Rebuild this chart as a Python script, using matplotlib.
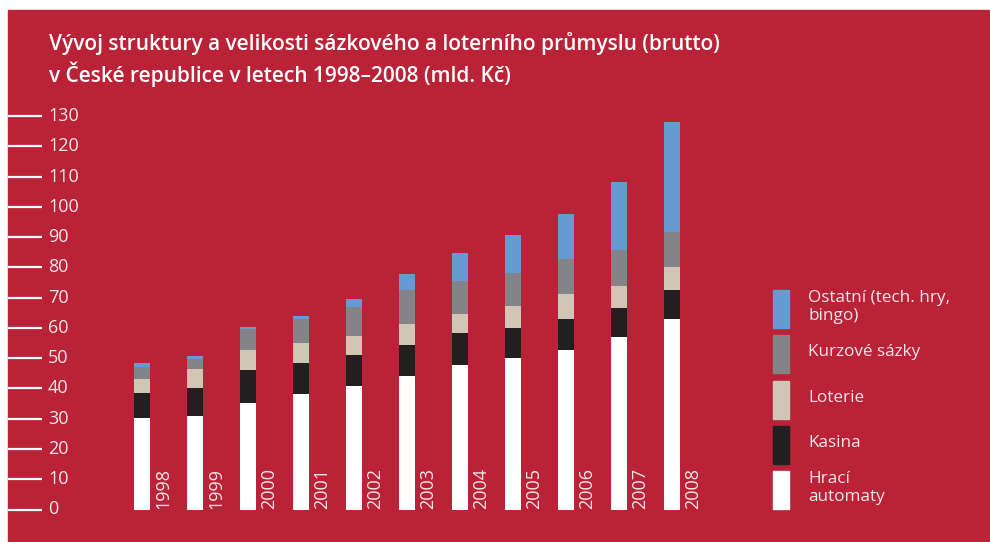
import matplotlib.pyplot as plt
import matplotlib.patches as mpatches
import matplotlib.transforms as mtransforms

years = ["1998", "1999", "2000", "2001", "2002", "2003", "2004", "2005", "2006", "2007", "2008"]
hraci = [30.2, 30.9, 35.2, 38.2, 40.8, 44.1, 47.7, 50.0, 52.7, 57.0, 62.9]
kasina = [8.3, 9.2, 10.9, 10.2, 10.2, 10.2, 10.6, 10.0, 10.2, 9.6, 9.6]
loterie = [4.6, 6.3, 6.6, 6.6, 6.3, 7.0, 6.3, 7.2, 8.3, 7.2, 7.6]
kurzove = [4.0, 3.3, 6.9, 7.9, 9.6, 11.2, 10.9, 10.9, 11.6, 11.9, 11.6]
ostatni = [1.2, 1.0, 0.7, 1.0, 2.6, 5.3, 9.2, 12.6, 14.8, 22.5, 36.3]
yticks = list(range(0, 140, 10))

series = [
    ("Hrací\nautomaty", hraci, "#ffffff"),
    ("Kasina", kasina, "#231f20"),
    ("Loterie", loterie, "#d1c6b6"),
    ("Kurzové sázky", kurzove, "#848488"),
    ("Ostatní (tech. hry,\nbingo)", ostatni, "#669bd2"),
]

RED = "#b92237"
FONT = "Open Sans"
W, H = 990, 542

fig = plt.figure(figsize=(W / 100, H / 100), dpi=100, facecolor="white")
fig.patches.append(mpatches.Rectangle((8 / W, 0), 1 - 8 / W, (H - 10) / H,
                                      transform=fig.transFigure, color=RED, zorder=-5))

# axes: x pixel 8..990, y=0 at px 509.5, 130 at px 116
px_per_unit = (509.5 - 116) / 130
ytop = 135
ax = fig.add_axes([8 / W, (H - 509.5) / H, 1 - 8 / W, ytop * px_per_unit / H])
ax.set_facecolor("none")
ax.set_xlim((8 - 142) / 53, (990 - 142) / 53)
ax.set_ylim(0, ytop)
ax.axis("off")

x = range(len(years))
bottom = [0] * len(years)
for name, vals, col in series:
    ax.bar(x, vals, width=16 / 53, bottom=bottom, color=col, linewidth=0)
    bottom = [b + v for b, v in zip(bottom, vals)]

for i, yr in enumerate(years):
    ax.text(i + 0.40, 0.3, yr, rotation=90, ha="center", va="bottom",
            color="#f2e6e8", fontsize=13, family=FONT)

trans = mtransforms.blended_transform_factory(ax.transAxes, ax.transData)
for t in yticks:
    ax.plot([0, 34 / 982], [t, t], color="white", lw=1.6, transform=trans,
            clip_on=False, solid_capstyle="butt")
    ax.text(40 / 982, t, str(t), transform=trans, ha="left", va="center",
            color="#f2e6e8", fontsize=13, family=FONT)

# legend
leg_items = list(reversed(series))
tops = [290, 335, 381, 426, 471]
for (name, vals, col), top in zip(leg_items, tops):
    fig.patches.append(mpatches.Rectangle((773 / W, (H - top - 38) / H), 16 / W, 38 / H,
                                          transform=fig.transFigure, color=col, zorder=2))
    fig.text(808 / W, (H - top - 17) / H, name, ha="left", va="center", color="#f2e6e8",
             fontsize=12.3, family=FONT, linespacing=1.1)

fig.text(49 / W, (H - 32) / H,
         "Vývoj struktury a velikosti sázkového a loterního průmyslu (brutto)\n"
         "v České republice v letech 1998–2008 (mld. Kč)",
         ha="left", va="top", color="white", fontsize=15, fontweight="semibold",
         family=FONT, linespacing=1.3)

fig.savefig("out.png", dpi=100, facecolor="white")
